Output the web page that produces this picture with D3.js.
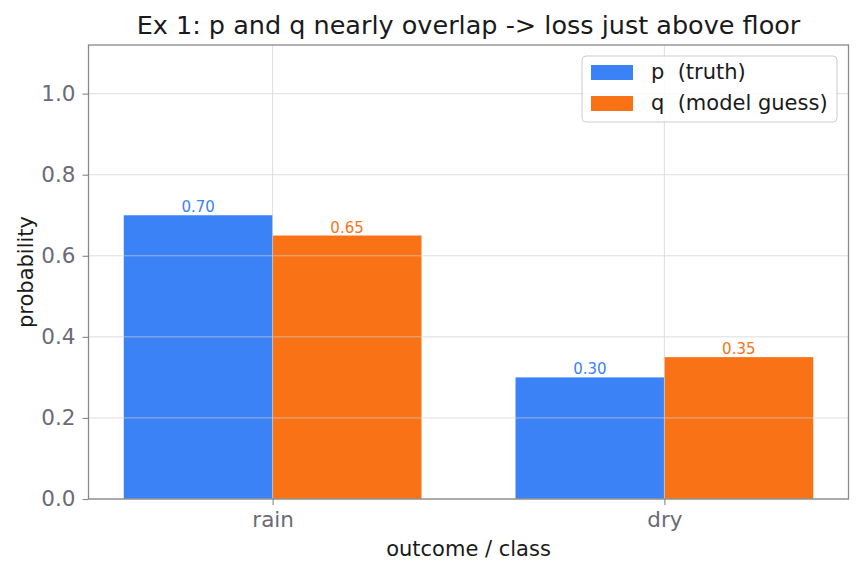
<!DOCTYPE html>
<html><head><meta charset="utf-8">
<script src="https://cdn.jsdelivr.net/npm/d3@7"></script>
<style>body{margin:0;background:#fff;} text{font-family:"DejaVu Sans",sans-serif;white-space:pre;}</style>
</head><body><svg id="c" width="862" height="573"></svg>
<script>
const categories = ["rain", "dry"];
const pValues = [0.70, 0.30];
const qValues = [0.65, 0.35];
const seriesNames = ["p  (truth)", "q  (model guess)"];
const seriesColors = ["#3b82f6", "#f97316"];
const yTicks = [0.0, 0.2, 0.4, 0.6, 0.8, 1.0];
const title = "Ex 1: p and q nearly overlap -> loss just above floor";

const svg = d3.select("#c");
const L = 88.5, R = 848.5, T = 45, B = 499;
const barW = 0.38;
const x = d3.scaleLinear().domain([-0.47, 1.47]).range([L, R]);
const y = d3.scaleLinear().domain([0, 1.12]).range([B, T]);
const series = [pValues, qValues];

// bars
series.forEach((vals, si) => {
  const off = si === 0 ? -barW : 0;
  svg.append("g").selectAll("rect").data(vals).join("rect")
    .attr("x", (d, i) => x(i + off))
    .attr("width", x(barW) - x(0))
    .attr("y", d => y(d))
    .attr("height", d => y(0) - y(d))
    .attr("fill", seriesColors[si]);
  svg.append("g").selectAll("text").data(vals).join("text")
    .attr("x", (d, i) => x(i + off + barW / 2))
    .attr("y", d => y(d) - 3)
    .attr("text-anchor", "middle")
    .attr("font-size", 15)
    .attr("fill", seriesColors[si])
    .text(d => d.toFixed(2));
});

// grid on top
const grid = svg.append("g").attr("stroke", "#cfcfcf").attr("stroke-width", 0.8).attr("opacity", 0.85);
yTicks.forEach(t => grid.append("line").attr("x1", L).attr("x2", R).attr("y1", y(t)).attr("y2", y(t)));
categories.forEach((c, i) => grid.append("line").attr("x1", x(i)).attr("x2", x(i)).attr("y1", T).attr("y2", B));

// frame
svg.append("rect").attr("x", L).attr("y", T).attr("width", R - L).attr("height", B - T)
  .attr("fill", "none").attr("stroke", "#888").attr("stroke-width", 1.3);

// axes
const yAxis = d3.axisLeft(y).tickValues(yTicks).tickFormat(d3.format(".1f")).tickSize(6).tickPadding(7);
const ga = svg.append("g").attr("transform", `translate(${L},0)`).call(yAxis);
const xAxis = d3.axisBottom(x).tickValues([0, 1]).tickFormat(i => categories[i]).tickSize(6).tickPadding(7);
const gb = svg.append("g").attr("transform", `translate(0,${B})`).call(xAxis);
[ga, gb].forEach(g => {
  g.select(".domain").remove();
  g.selectAll("line").attr("stroke", "#888").attr("stroke-width", 1.1);
  g.selectAll("text").attr("fill", "#6b6b75").attr("font-size", 21.5).attr("font-family", "DejaVu Sans");
});

// labels
svg.append("text").attr("x", (L + R) / 2).attr("y", 34).attr("text-anchor", "middle")
  .attr("font-size", 25.5).attr("fill", "#1a1a1a").text(title);
svg.append("text").attr("x", (L + R) / 2).attr("y", 556).attr("text-anchor", "middle")
  .attr("font-size", 21).attr("fill", "#1a1a1a").text("outcome / class");
svg.append("text").attr("transform", `translate(33,${(T + B) / 2}) rotate(-90)`).attr("text-anchor", "middle")
  .attr("font-size", 21).attr("fill", "#1a1a1a").text("probability");

// legend
const lg = svg.append("g");
lg.append("rect").attr("x", 582).attr("y", 56).attr("width", 255).attr("height", 66).attr("rx", 4)
  .attr("fill", "#fff").attr("fill-opacity", 0.85).attr("stroke", "#ccc");
seriesNames.forEach((n, i) => {
  lg.append("rect").attr("x", 591).attr("y", 65 + i * 31).attr("width", 42).attr("height", 15).attr("fill", seriesColors[i]);
  lg.append("text").attr("x", 651).attr("y", 79 + i * 31).attr("font-size", 21).attr("fill", "#1a1a1a").text(n);
});
</script></body></html>
